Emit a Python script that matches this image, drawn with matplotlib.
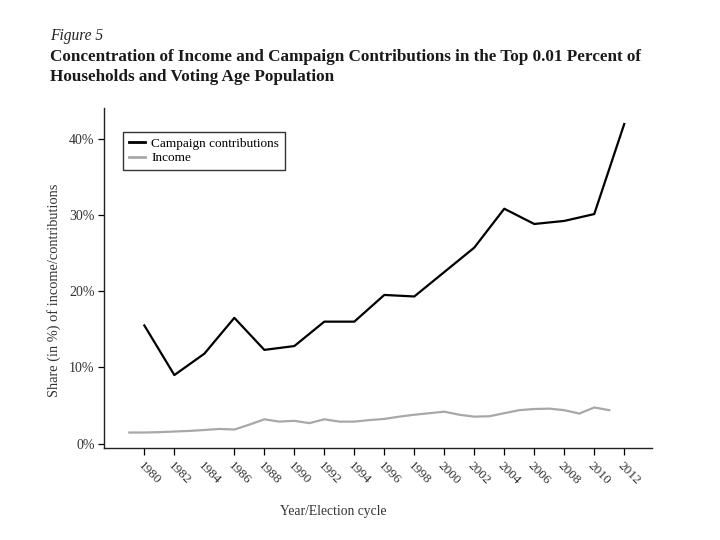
import matplotlib
matplotlib.use("Agg")
import matplotlib.pyplot as plt
import matplotlib.transforms as mtransforms

# Data
campaign_years = [1980, 1982, 1984, 1986, 1988, 1990, 1992, 1994, 1996, 1998,
                  2000, 2002, 2004, 2006, 2008, 2010, 2012]
campaign_share = [15.5, 9.0, 11.8, 16.5, 12.3, 12.8, 16.0, 16.0, 19.5, 19.3,
                  22.5, 25.7, 30.8, 28.8, 29.2, 30.1, 41.9]

income_years = list(range(1979, 2012))
income_share = [1.47, 1.47, 1.52, 1.6, 1.68, 1.8, 1.94, 1.86, 2.5, 3.2,
                2.9, 3.0, 2.7, 3.2, 2.9, 2.9, 3.1, 3.25, 3.55, 3.8,
                4.0, 4.2, 3.8, 3.55, 3.6, 4.0, 4.4, 4.55, 4.6, 4.4,
                3.95, 4.75, 4.4]

xtick_years = list(range(1980, 2013, 2))
ytick_values = [0, 10, 20, 30, 40]
ytick_labels = ["0%", "10%", "20%", "30%", "40%"]

plt.rcParams['font.family'] = ['Liberation Serif', 'DejaVu Serif']

fig = plt.figure(figsize=(7.2, 5.4), dpi=100)
ax = fig.add_axes([0.1449, 0.1698, 0.7602, 0.6302])

ax.plot(campaign_years, campaign_share, color='black', lw=1.6,
        label='Campaign contributions')
ax.plot(income_years, income_share, color='#a8a8a8', lw=1.6, label='Income')

ax.set_xlim(1977.33, 2013.83)
ax.set_ylim(-0.6, 44)

ax.set_xticks(xtick_years)
ax.set_xticklabels([str(y) for y in xtick_years], rotation=-45, ha='left',
                   va='top', rotation_mode='anchor', fontsize=9.5, color='#333333')
offset = mtransforms.ScaledTranslation(-3 / 100, 0, fig.dpi_scale_trans)
for lbl in ax.get_xticklabels():
    lbl.set_transform(lbl.get_transform() + offset)
ax.set_yticks(ytick_values)
ax.set_yticklabels(ytick_labels, fontsize=10, color='#333333')
ax.tick_params(axis='x', length=5, width=0.9, direction='out', pad=3)
ax.tick_params(axis='y', length=4.5, width=0.9, direction='out', pad=2.5)
ax.xaxis.get_major_ticks()[2].tick1line.set_visible(False)

for s in ['top', 'right']:
    ax.spines[s].set_visible(False)
for s in ['left', 'bottom']:
    ax.spines[s].set_linewidth(1.0)
    ax.spines[s].set_color('#222222')

ax.set_ylabel('Share (in %) of income/contributions', fontsize=10.4,
              color='#333333')
ax.yaxis.set_label_coords(-0.079, 0.464)
ax.set_xlabel('Year/Election cycle', fontsize=9.8, color='#333333')
ax.xaxis.set_label_coords(0.418, -0.166)

leg = ax.legend(loc='upper left', bbox_to_anchor=(0.034, 0.930), fontsize=9.5,
                frameon=True, fancybox=False, edgecolor='black',
                handlelength=1.2, borderpad=0.45, labelspacing=0.15,
                handletextpad=0.5, borderaxespad=0)
leg.get_frame().set_linewidth(1.0)
for line in leg.get_lines():
    line.set_linewidth(2.0)

fig.text(0.07, 0.926, 'Figure 5', fontsize=11.2, style='italic', color='#222222')
fig.text(0.07, 0.887, 'Concentration of Income and Campaign Contributions in the Top 0.01 Percent of',
         fontsize=12.3, fontweight='bold', color='#1a1a1a')
fig.text(0.07, 0.850, 'Households and Voting Age Population',
         fontsize=12.3, fontweight='bold', color='#1a1a1a')

fig.savefig('out.png', dpi=100, facecolor='white')
